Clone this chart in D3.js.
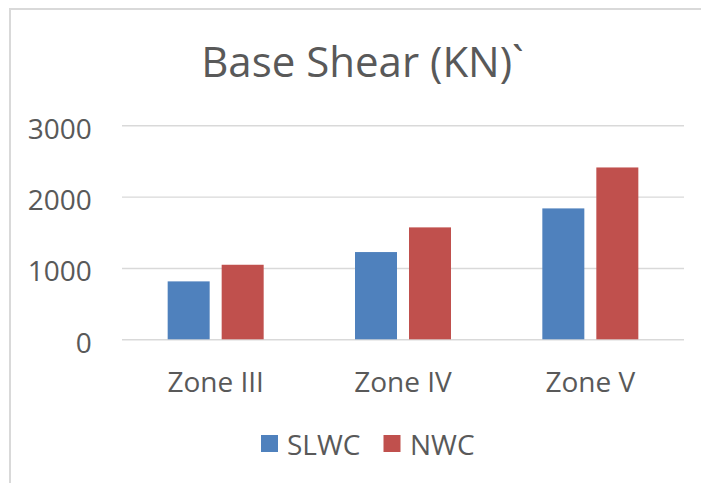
<!DOCTYPE html>
<html><head><meta charset="utf-8">
<script src="https://cdn.jsdelivr.net/npm/d3@7"></script>
<style>
html,body{margin:0;padding:0;background:#fff;}
text{font-family:"Open Sans",sans-serif;fill:#595959;}
</style></head>
<body>
<svg id="c" width="701" height="483"></svg>
<script>
const categories = ["Zone III", "Zone IV", "Zone V"];
const seriesNames = ["SLWC", "NWC"];
const slwc = [812, 1223, 1835];
const nwc = [1045, 1569, 2409];
const yTicks = [0, 1000, 2000, 3000];
const title = "Base Shear (KN)`";

const colors = {SLWC: "#4f81bd", NWC: "#c0504d"};
const svg = d3.select("#c");
const W = 701, H = 483;

// outer chart border (partially cropped)
svg.append("rect").attr("x", 10).attr("y", 9).attr("width", W + 20).attr("height", H + 20)
  .attr("fill", "#fff").attr("stroke", "#d9d9d9").attr("stroke-width", 2);

const x0 = d3.scaleBand().domain(categories).range([122, 684]).paddingInner(0).paddingOuter(0);
const x1 = d3.scaleBand().domain(seriesNames).range([0, 96]).paddingInner(2 - 96 / 54).paddingOuter(0);
const y = d3.scaleLinear().domain([0, 3000]).range([339.3, 125.3]);

// gridlines + y labels
const yAxis = svg.append("g").attr("transform", "translate(122,0)")
  .call(d3.axisLeft(y).tickValues(yTicks).tickSize(-(684 - 122)).tickPadding(30).tickFormat(d3.format("d")));
yAxis.select(".domain").remove();
yAxis.selectAll(".tick line").attr("stroke", "#d9d9d9").attr("stroke-width", 1.4);
yAxis.selectAll(".tick text").attr("font-size", 28).attr("fill", "#595959")
  .attr("font-family", "Open Sans").attr("dy", 13).attr("x", -30.3);

const data = categories.map((c, i) => ({cat: c, vals: [{k: "SLWC", v: slwc[i]}, {k: "NWC", v: nwc[i]}]}));

const g = svg.append("g");
g.selectAll("g.grp").data(data).join("g").attr("class", "grp")
  .attr("transform", d => `translate(${x0(d.cat) + x0.bandwidth() / 2 - 48},0)`)
  .selectAll("rect").data(d => d.vals).join("rect")
  .attr("x", d => x1(d.k)).attr("width", x1.bandwidth())
  .attr("y", d => y(d.v)).attr("height", d => y(0) - y(d.v))
  .attr("fill", d => colors[d.k]);

// x axis labels
const xAxis = svg.append("g").attr("transform", "translate(0,339.3)")
  .call(d3.axisBottom(x0).tickSize(0).tickPadding(0));
xAxis.select(".domain").remove();
xAxis.selectAll(".tick text").attr("font-size", 28).attr("fill", "#595959")
  .attr("font-family", "Open Sans").attr("dy", null).attr("y", 53);

// title
svg.append("text").attr("x", 362.5).attr("y", 76.7).attr("text-anchor", "middle")
  .attr("font-size", 42).text(title);

// legend
const legendItems = [{k: "SLWC", sx: 261, tx: 287}, {k: "NWC", sx: 383.5, tx: 410}];
const lg = svg.append("g");
lg.selectAll("rect").data(legendItems).join("rect")
  .attr("x", d => d.sx).attr("y", 435).attr("width", 17).attr("height", 17)
  .attr("fill", d => colors[d.k]);
lg.selectAll("text").data(legendItems).join("text")
  .attr("x", d => d.tx).attr("y", 455).attr("font-size", 28).text(d => d.k);
</script>
</body></html>
